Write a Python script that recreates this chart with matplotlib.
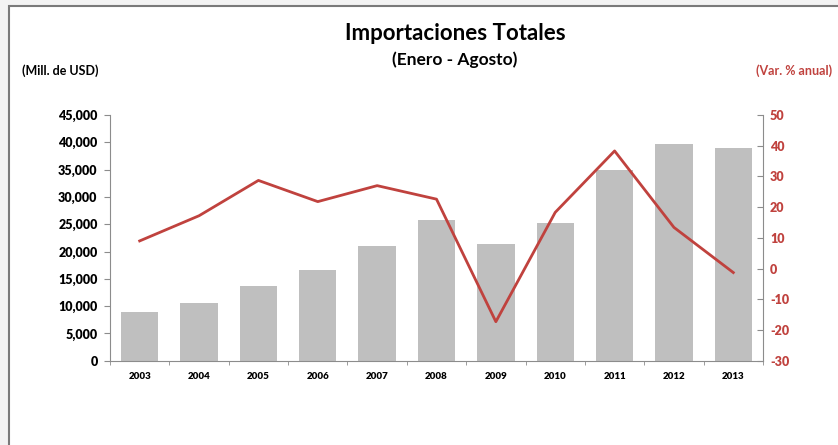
import numpy as np
import matplotlib
matplotlib.use('Agg')
import matplotlib.pyplot as plt
from matplotlib.patches import Rectangle
from matplotlib.ticker import FuncFormatter

# Datos (Enero - Agosto)
years = ['2003', '2004', '2005', '2006', '2007', '2008', '2009', '2010', '2011', '2012', '2013']
imports_musd = [9000, 10650, 13600, 16650, 21000, 25850, 21400, 25300, 34900, 39650, 39000]
var_pct = [9.0, 17.2, 28.7, 21.8, 27.0, 22.6, -17.3, 18.3, 38.3, 13.4, -1.3]

red = '#c0423e'
grey_axis = '#8c8c8c'
plt.rcParams['font.family'] = ['Lato', 'DejaVu Sans']
plt.rcParams['font.weight'] = 'bold'
plt.rcParams['axes.unicode_minus'] = False


def main():
    fig = plt.figure(figsize=(8.38, 4.45), dpi=100, facecolor='#f3f3f3')
    # marco blanco del grafico (recortado arriba/izquierda)
    fig.patches.append(Rectangle((9 / 838, -0.01), 1.0, 1 - 6 / 445 + 0.01,
                                 transform=fig.transFigure, facecolor='white',
                                 edgecolor='#7a7a7a', linewidth=1.5, zorder=-5))

    ax = fig.add_axes([110 / 838, 1 - 360.7 / 445, 653 / 838, 245.7 / 445])
    ax.set_facecolor('none')
    x = np.arange(len(years))
    ax.bar(x, imports_musd, width=0.63, color='#bfbfbf', zorder=2)
    ax.set_xlim(-0.5, len(years) - 0.5)
    ax.set_ylim(0, 45000)
    ax.set_yticks(np.arange(0, 45001, 5000))
    ax.yaxis.set_major_formatter(FuncFormatter(lambda v, p: f'{int(v):,}'))
    ax.set_xticks(x)
    ax.set_xticklabels(years, fontsize=7)
    ax.set_xticks(np.arange(-0.5, len(years)), minor=True)
    ax.tick_params(axis='x', which='major', length=0, pad=8)
    ax.tick_params(axis='x', which='minor', length=3, color=grey_axis, direction='out')
    ax.tick_params(axis='y', labelsize=9, length=4, color=grey_axis, pad=5)
    for s in ['top', 'right']:
        ax.spines[s].set_visible(False)
    for s in ['left', 'bottom']:
        ax.spines[s].set_color(grey_axis)

    ax2 = ax.twinx()
    ax2.plot(x, var_pct, color=red, linewidth=2.0, zorder=3)
    ax2.set_ylim(-30, 50)
    ax2.set_yticks(np.arange(-30, 51, 10))
    ax2.tick_params(axis='y', labelsize=9, length=4, color=grey_axis,
                    labelcolor=red, direction='in', pad=5)
    for s in ['top', 'left', 'bottom']:
        ax2.spines[s].set_visible(False)
    ax2.spines['right'].set_color(grey_axis)

    fig.canvas.draw()
    for lbl in ax.get_xticklabels() + ax.get_yticklabels() + ax2.get_yticklabels():
        lbl.set_fontweight('heavy')

    fig.text(455 / 838, 1 - 33 / 445, 'Importaciones Totales', ha='center', va='center',
             fontsize=16)
    fig.text(455 / 838, 1 - 60 / 445, '(Enero - Agosto)', ha='center', va='center',
             fontsize=12.5)
    fig.text(22 / 838, 1 - 71 / 445, '(Mill. de USD)', ha='left', va='center',
             fontsize=9)
    fig.text(832 / 838, 1 - 71 / 445, '(Var. % anual)', ha='right', va='center',
             fontsize=9, color=red)

    fig.savefig('out.png', dpi=100, facecolor=fig.get_facecolor())


if __name__ == '__main__':
    main()
